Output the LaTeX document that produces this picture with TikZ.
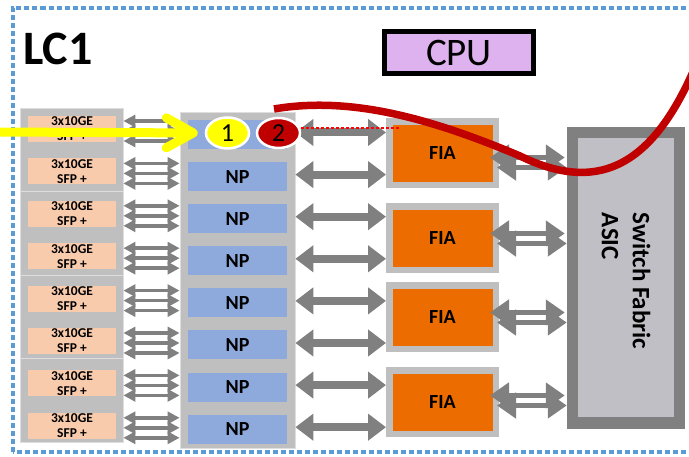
\documentclass[tikz,border=0pt]{standalone}
\usepackage{fontspec}
\setmainfont{Carlito}
\usepackage{tikz}
\usetikzlibrary{arrows.meta,positioning,shapes.geometric}
\definecolor{lcline}{RGB}{91,155,213}
\definecolor{panelgray}{RGB}{191,191,191}
\definecolor{sepgray}{RGB}{222,222,222}
\definecolor{linkgray}{RGB}{128,128,128}
\definecolor{sfpbg}{RGB}{248,203,173}
\definecolor{npbg}{RGB}{142,169,219}
\definecolor{fiabg}{RGB}{236,108,0}
\definecolor{asicbg}{RGB}{191,191,197}
\definecolor{cpubg}{RGB}{222,178,238}
\definecolor{pathred}{RGB}{192,0,0}
\definecolor{pathyellow}{RGB}{255,255,0}
\tikzset{
  panel/.style={
    fill=panelgray,
    draw=sepgray,
    line width=0.8pt,
    inner sep=0pt
  },
  sfpbox/.style={
    fill=sfpbg,
    align=center,
    inner sep=0pt,
    minimum width=88pt,
    minimum height=26pt,
    font=\bfseries\fontsize{13.5}{15}\selectfont
  },
  npbox/.style={
    fill=npbg,
    inner sep=0pt,
    minimum width=99pt,
    minimum height=29pt,
    font=\bfseries\fontsize{20}{20}\selectfont
  },
  fiabox/.style={
    fill=fiabg,
    draw=panelgray,
    line width=6.5pt,
    inner sep=0pt,
    minimum width=106.5pt,
    minimum height=63.5pt,
    font=\bfseries\fontsize{20}{20}\selectfont
  },
  asicbox/.style={
    fill=asicbg,
    draw=linkgray,
    line width=11.5pt,
    inner sep=0pt,
    minimum width=107pt,
    minimum height=290.5pt
  },
  cpubox/.style={
    fill=cpubg,
    draw=black,
    line width=5pt,
    inner sep=0pt,
    minimum width=149pt,
    minimum height=42pt,
    font=\fontsize{39}{39}\selectfont
  },
  marker/.style={
    ellipse,
    draw=white,
    line width=2.5pt,
    inner sep=0pt,
    minimum width=43pt,
    minimum height=31pt,
    font=\fontsize{26}{26}\selectfont
  },
  lcborder/.style={draw=lcline, line width=4pt, dash pattern=on 5pt off 3pt},
  portarrow/.style={{Triangle[length=12pt,width=12pt]}-{Triangle[length=12pt,width=12pt]}, draw=linkgray, line width=3.5pt},
  linkarrow/.style={{Triangle[length=18pt,width=26pt]}-{Triangle[length=18pt,width=26pt]}, draw=linkgray, line width=8pt},
  fabricarrow/.style={{Triangle[length=19pt,width=25pt]}-{Triangle[length=19pt,width=25pt]}, draw=linkgray, line width=5.5pt},
  yellowarrow/.style={-{Straight Barb[length=27pt,width=30pt,round]}, draw=pathyellow, line width=9pt},
  redpath/.style={draw=pathred, line width=7.5pt},
  reddash/.style={draw=red, line width=1.2pt, dash pattern=on 3pt off 2pt}
}
\begin{document}
\begin{tikzpicture}[x=1pt, y=1pt]
  \useasboundingbox (0,0) rectangle (689,457);
  \clip (0,0) rectangle (689,457);
  \draw[lcborder] (12.5,4.5) rectangle (705,448.5);

  \node[font=\bfseries\fontsize{48}{48}\selectfont, anchor=west, inner sep=0pt] (lc) at (23,408) {LC1};
  \node[cpubox] (cpu) at (459,404.5) {CPU};

  \node[panel, minimum width=103pt, minimum height=83.5pt] (sfpg1) at (71.5,307.25) {};
  \node[panel, minimum width=103pt, minimum height=83.5pt] (sfpg2) at (71.5,223.75) {};
  \node[panel, minimum width=103pt, minimum height=83.5pt] (sfpg3) at (71.5,140.25) {};
  \node[panel, minimum width=103pt, minimum height=83.5pt] (sfpg4) at (71.5,56.75) {};
  \node[panel, minimum width=115pt, minimum height=336pt] (npcol) at (237.5,177) {};

  \node[sfpbox] (sfp1) at (72,328) {3x10GE\\SFP +};
  \node[sfpbox, below=16pt of sfp1] (sfp2) {3x10GE\\SFP +};
  \node[sfpbox, below=16pt of sfp2] (sfp3) {3x10GE\\SFP +};
  \node[sfpbox, below=16pt of sfp3] (sfp4) {3x10GE\\SFP +};
  \node[sfpbox, below=16pt of sfp4] (sfp5) {3x10GE\\SFP +};
  \node[sfpbox, below=16pt of sfp5] (sfp6) {3x10GE\\SFP +};
  \node[sfpbox, below=16pt of sfp6] (sfp7) {3x10GE\\SFP +};
  \node[sfpbox, below=16pt of sfp7] (sfp8) {3x10GE\\SFP +};

  \node[npbox] (np1) at (237.5,322.5) {};
  \node[npbox, below=12.7pt of np1] (np2) {NP};
  \node[npbox, below=12.7pt of np2] (np3) {NP};
  \node[npbox, below=12.7pt of np3] (np4) {NP};
  \node[npbox, below=12.7pt of np4] (np5) {NP};
  \node[npbox, below=12.7pt of np5] (np6) {NP};
  \node[npbox, below=12.7pt of np6] (np7) {NP};
  \node[npbox, below=12.7pt of np7] (np8) {NP};

  \node[fiabox] (fia1) at (442.5,303.5) {FIA};
  \node[fiabox] (fia2) at (442.5,218.5) {FIA};
  \node[fiabox] (fia3) at (442.5,139.5) {FIA};
  \node[fiabox] (fia4) at (442.5,54.5) {FIA};

  \node[asicbox] (asic) at (626,179) {};
  \node[rotate=-90, align=left, inner sep=0pt, font=\bfseries\fontsize{25}{31}\selectfont] (asiclabel) at ([yshift=-3pt]asic.center) {Switch Fabric\\ASIC};

  \foreach \i in {1,...,8} {
    \foreach \dy in {8,-2,-12} {
      \draw[portarrow] ([yshift=\dy pt]sfp\i.east -| sfpg1.east) -- ([yshift=\dy pt]sfp\i.east -| npcol.west);
    }
  }
  \foreach \n/\f in {1/1,2/1,3/2,4/2,5/3,6/3,7/4,8/4} {
    \draw[linkarrow] ([yshift=2pt]np\n.east -| npcol.east) -- ([yshift=2pt]np\n.east -| fia\f.west);
  }
  \foreach \f/\s in {1/-9,2/0,3/0,4/2} {
    \draw[fabricarrow] ([xshift=-9pt,yshift=\s pt+5pt]fia\f.east) -- ([xshift=-2pt,yshift=\s pt+5pt]fia\f.east -| asic.west);
    \draw[fabricarrow] ([xshift=-2pt,yshift=\s pt-5pt]fia\f.east) -- ([yshift=\s pt-5pt]fia\f.east -| asic.west);
  }

  \node[marker, fill=pathyellow] (one) at (227.5,324) {1};
  \node[marker, fill=pathred, minimum height=30pt] (two) at (278.5,324) {2};

  \coordinate (dashend) at (400,329);
  \draw[reddash] (two.east |- dashend) -- (dashend);

  \coordinate (yin) at (-6,325);
  \draw[yellowarrow, shorten >=7pt] (yin) -- (one.west);

  \coordinate (redstart) at (274,348);
  \coordinate (redexit) at (698,397);
  \draw[redpath] (redstart) .. controls (350,361) and (430,339) .. (520,301) .. controls (600,262) and (655,292) .. (redexit);
\end{tikzpicture}
\end{document}
